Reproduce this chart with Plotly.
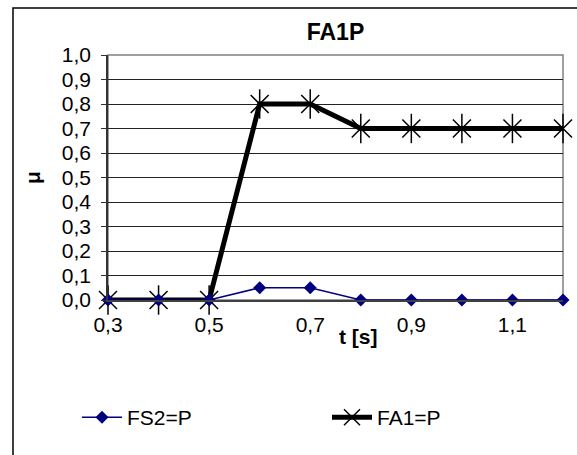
import plotly.graph_objects as go

t_values = [0.3, 0.4, 0.5, 0.6, 0.7, 0.8, 0.9, 1.0, 1.1, 1.2]
fs2_values = [0.0, 0.0, 0.0, 0.05, 0.05, 0.0, 0.0, 0.0, 0.0, 0.0]
fa1_values = [0.0, 0.0, 0.0, 0.8, 0.8, 0.7, 0.7, 0.7, 0.7, 0.7]
x_tick_vals = [0.3, 0.5, 0.7, 0.9, 1.1]
x_tick_text = ["0,3", "0,5", "0,7", "0,9", "1,1"]
y_tick_vals = [0.0, 0.1, 0.2, 0.3, 0.4, 0.5, 0.6, 0.7, 0.8, 0.9, 1.0]
y_tick_text = ["0,0", "0,1", "0,2", "0,3", "0,4", "0,5", "0,6", "0,7", "0,8", "0,9", "1,0"]

FONT = "Liberation Sans, Arial, sans-serif"

fig = go.Figure()
fig.add_trace(go.Scatter(
    x=t_values, y=fa1_values, name="FA1=P", mode="lines+markers",
    line=dict(color="black", width=5),
    marker=dict(symbol="x-thin-open", size=18, color="black",
                line=dict(color="black", width=1.5)),
    cliponaxis=False, legendrank=2,
))
fig.add_trace(go.Scatter(
    x=t_values, y=fa1_values, mode="markers", showlegend=False,
    marker=dict(symbol="line-ns-open", size=21, color="black",
                line=dict(color="black", width=1.5)),
    cliponaxis=False, hoverinfo="skip",
))
fig.add_trace(go.Scatter(
    x=t_values, y=fs2_values, name="FS2=P", mode="lines+markers",
    line=dict(color="#000080", width=1.5),
    marker=dict(symbol="diamond", size=10, color="#000080"),
    cliponaxis=False, legendrank=1,
))

fig.update_layout(
    width=577, height=455,
    margin=dict(l=108, r=14, t=55, b=155),
    paper_bgcolor="white", plot_bgcolor="white",
    font=dict(family=FONT, size=21, color="black"),
    title=dict(text="<b>FA1P</b>", x=0.5, xref="paper", y=0.93, yanchor="middle",
               font=dict(size=23, family=FONT)),
    showlegend=True,
    legend=dict(orientation="h", x=-0.035, xanchor="left", y=-0.48, yanchor="middle",
                font=dict(size=21), entrywidth=195, entrywidthmode="pixels",
                itemwidth=40, bgcolor="rgba(0,0,0,0)"),
    xaxis=dict(range=[0.3, 1.2], tickvals=x_tick_vals, ticktext=x_tick_text,
               showgrid=False, zeroline=False, showline=True, linecolor="#404040",
               linewidth=1.5, ticks="", tickfont=dict(size=21), ticklabelstandoff=5),
    yaxis=dict(range=[0, 1.0], tickvals=y_tick_vals, ticktext=y_tick_text,
               showgrid=True, gridcolor="#222222", gridwidth=1, zeroline=False,
               showline=True, linecolor="#333333", linewidth=1.5,
               ticks="outside", ticklen=5, tickcolor="#333333",
               tickfont=dict(size=21), ticklabelstandoff=6,
               title=dict(text="<b>μ</b>", font=dict(size=21), standoff=15)),
    shapes=[
        dict(type="rect", xref="paper", yref="paper", x0=0, x1=1, y0=0, y1=1,
             line=dict(color="#808080", width=1.5), layer="below"),
        dict(type="rect", xref="paper", yref="paper", x0=-0.2088, x1=1.2, y0=-1.0, y1=1.1918,
             line=dict(color="black", width=1.5), layer="below"),
    ],
    annotations=[
        dict(text="<b>t [s]</b>", xref="paper", yref="paper", x=0.55, y=-0.147,
             showarrow=False, font=dict(size=21), xanchor="center", yanchor="middle"),
    ],
)

fig.write_html("out.html", config={"displayModeBar": False},
               post_script="document.body.style.margin='0';")
